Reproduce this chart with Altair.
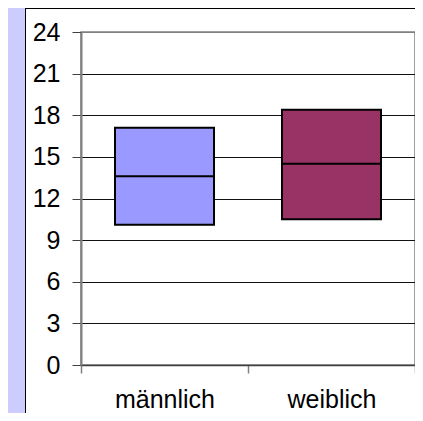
import altair as alt
import pandas as pd

categories = ["männlich", "weiblich"]
q1 = [10.1, 10.5]
median = [13.6, 14.5]
q3 = [17.1, 18.4]
colors = ["#9999FF", "#993366"]
y_ticks = [0, 3, 6, 9, 12, 15, 18, 21, 24]

df = pd.DataFrame({"cat": categories, "q1": q1, "median": median, "q3": q3})

W, H = 334, 333
PL, PT, PB = 73, 24, 48
FONT = "Liberation Sans"

x = alt.X("cat:N", sort=categories, title=None,
          scale=alt.Scale(paddingInner=0, paddingOuter=0),
          axis=alt.Axis(labelAngle=0, labelFontSize=25, labelFont=FONT, labelColor="black",
                        tickBand="extent", tickSize=8, tickColor="#808080", tickWidth=1.5,
                        domainColor="#404040", domainWidth=1.5, labelPadding=14, grid=False))
yscale = alt.Scale(domain=[0, 24], nice=False, zero=True)

boxes = alt.Chart(df).mark_bar(size=99, stroke="black", strokeWidth=2).encode(
    x=x,
    y=alt.Y("q1:Q", scale=yscale, title=None,
            axis=alt.Axis(values=y_ticks, labelFontSize=25, labelFont=FONT, labelColor="black",
                          tickSize=9, tickColor="#404040", labelPadding=12,
                          domainColor="#808080", domainWidth=2,
                          gridColor={"condition": {"test": "datum.value == 0 || datum.value == 24",
                                                   "value": "#808080"}, "value": "#111111"},
                          gridWidth=1.2)),
    y2="q3:Q",
    color=alt.Color("cat:N", scale=alt.Scale(domain=categories, range=colors), legend=None),
)

med = alt.Chart(df).mark_tick(size=99, thickness=2, color="black", opacity=1).encode(
    x=alt.X("cat:N", sort=categories),
    y=alt.Y("median:Q", scale=yscale),
)

deco_df = pd.DataFrame({"d": [0]})
strip = alt.Chart(deco_df).mark_rect(color="#CCCCFF").encode(
    x=alt.value(-PL), x2=alt.value(-PL + 17), y=alt.value(-PT), y2=alt.value(H + PB))
vline = alt.Chart(deco_df).mark_rule(color="black", strokeWidth=1).encode(
    x=alt.value(-PL + 17.5), y=alt.value(-PT), y2=alt.value(H + PB))
hline = alt.Chart(deco_df).mark_rule(color="black", strokeWidth=1).encode(
    x=alt.value(-PL + 17), x2=alt.value(W), y=alt.value(-PT + 0.5))

chart = alt.layer(boxes, med, strip, vline, hline).properties(
    width=W, height=H,
    background="white",
    padding={"left": PL, "top": PT, "right": 0, "bottom": PB},
    autosize=alt.AutoSizeParams(type="none"),
).configure_view(stroke="#808080", strokeWidth=1.5)

chart.save("out.html", embed_options={"renderer": "svg", "actions": False})
